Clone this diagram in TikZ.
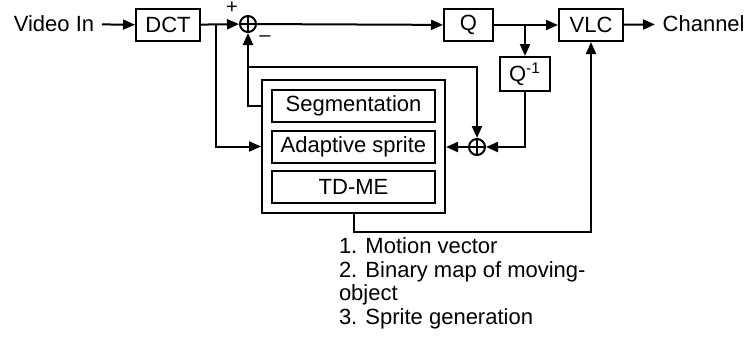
\documentclass[tikz,border=0pt]{standalone}
\usepackage{fontspec}
\setmainfont{Liberation Sans}
\usetikzlibrary{arrows.meta,fit,positioning}

\begin{document}
\begin{tikzpicture}[x=0.5pt,y=-0.5pt,>={Triangle[length=6pt,width=5pt]},line width=1pt,
  every node/.style={font=\fontsize{11}{11.75}\selectfont},
  blk/.style={draw,minimum height=16pt,inner sep=2pt},
  sub/.style={blk,minimum width=81.5pt},
  adder/.style={draw,circle,minimum size=8pt,inner sep=0pt,
    path picture={\draw[line width=0.7pt] (path picture bounding box.north) -- (path picture bounding box.south)
      (path picture bounding box.west) -- (path picture bounding box.east);}}]
  \useasboundingbox (0,0) rectangle (745,339);
  \node (vin) at (54,24) {Video In};
  \node[blk,minimum width=32pt] (dct) at (168,25) {DCT};
  \node[adder] (sum1) at (248,24) {};
  \node[font=\fontsize{10}{12}\selectfont] (plus) at (232,8) {+};
  \node[font=\fontsize{10}{12}\selectfont] (minus) at (265,39) {--};
  \node[blk,minimum width=24.5pt] (q) at (468.5,25) {Q};
  \node[blk,minimum width=32pt] (vlc) at (591,25) {VLC};
  \node[anchor=west] (chan) at (655,24) {Channel};
  \node[blk,minimum width=25pt,minimum height=17pt] (qi) at (525,74) {Q\textsuperscript{-1}};
  \node[sub] (seg) at (353.5,106) {Segmentation};
  \node[sub] (ada) at (353.5,146.5) {Adaptive sprite};
  \node[sub] (tdme) at (353.5,187) {TD-ME};
  \node[draw,fit=(seg)(ada)(tdme),inner sep=4.5pt] (enc) {};
  \node[adder] (sum2) at (477,147) {};
  \node[anchor=north west,inner sep=0pt,align=left] (list) at (338,237)
    {1. Motion vector\\2. Binary map of moving-\\object\\3. Sprite generation};
  \coordinate (br1) at (216,24);
  \coordinate (fb) at (248,67);
  \coordinate (br2) at (525,25);
  \coordinate (mv) at (591,232);
  \draw[->] (vin) -- (dct);
  \draw[->] (dct) -- (sum1);
  \draw[->] (br1) |- (enc.west |- ada);
  \draw[->] (enc.west |- seg) -| (sum1.south);
  \draw[->] (fb) -| (sum2.north);
  \draw[->] (sum1) -- (q);
  \draw[->] (q) -- (vlc);
  \draw[->] (br2) -- (qi);
  \draw[->] (qi) |- (sum2);
  \draw[->] (sum2) -- (enc.east |- sum2);
  \draw[->] (vlc) -- (chan);
  \draw[->] (enc.south) |- (mv) -- (vlc.south);
\end{tikzpicture}
\end{document}
